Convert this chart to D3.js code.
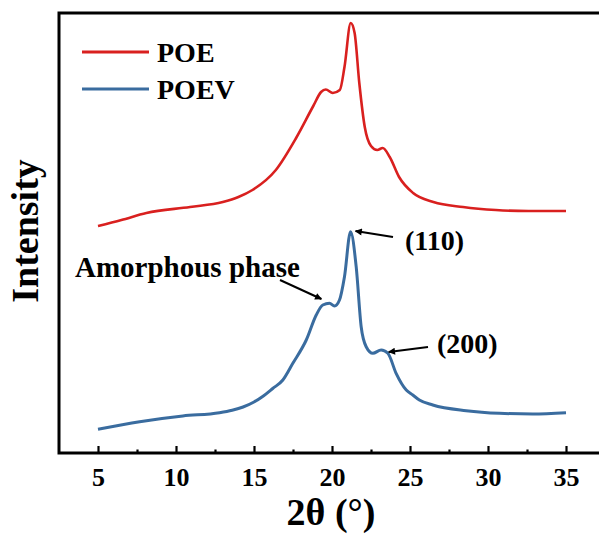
<!DOCTYPE html>
<html>
<head>
<meta charset="utf-8">
<script src="https://cdn.jsdelivr.net/npm/d3@7"></script>
<style>
  html, body { margin: 0; padding: 0; background: #fff; }
  svg { display: block; }
  text { font-family: "Liberation Serif", "Times New Roman", serif; font-weight: bold; fill: #000; }
</style>
</head>
<body>
<svg id="chart" width="599" height="537"></svg>
<script>
// ---- Data (2θ in degrees, intensity in arbitrary units) ----
const poeTheta = [5.0, 6.5, 8.1, 10.9, 13.0, 14.0, 14.9, 16.4, 17.7, 18.8, 19.3, 19.6, 20.05, 20.5, 20.8, 21.2, 21.45, 21.75, 22.1, 22.5, 22.9, 23.25, 23.7, 24.3, 25.2, 26.5, 28.4, 30.5, 32.6, 35.0];
const poeIntensity = [227, 233, 240, 246, 251, 256, 263, 283, 315, 347, 361, 363.5, 360, 363, 386, 430, 420, 370, 326, 307, 303, 305, 296, 276, 260, 251, 246, 243, 242, 242];

const poevTheta = [5.0, 7.67, 10.44, 12.79, 13.6, 14.3, 15.0, 15.6, 16.2, 16.85, 17.49, 18.35, 18.99, 19.41, 19.84, 20.16, 20.48, 20.8, 21.19, 21.55, 21.87, 22.19, 22.62, 23.15, 23.58, 24.11, 24.76, 25.18, 25.6, 26.46, 28.6, 30.73, 32.87, 35.0];
const poevIntensity = [23.7, 31.3, 37, 40.3, 42.8, 46, 51, 57, 64.5, 73, 89.7, 113, 138, 148, 149.7, 147, 153, 176.3, 221.3, 186.3, 126.3, 106.3, 99.7, 103, 99.7, 79.7, 63, 58, 53, 48, 42.3, 39.7, 39, 40.3];

const seriesNames = ["POE", "POEV"];
const seriesColors = ["#d9201f", "#3a6c9f"];
const majorTicks = [5, 10, 15, 20, 25, 30, 35];
const minorTicks = [7.5, 12.5, 17.5, 22.5, 27.5, 32.5];

const xLabel = "2θ (°)";
const yLabel = "Intensity";

// ---- Layout ----
const svg = d3.select("#chart");
const mLeft = 59, mTop = 13, mBottom = 453, mRight = 605;

const x = d3.scaleLinear().domain([2.5, 37.5]).range([mLeft, mRight]);
const y = d3.scaleLinear().domain([0, 440]).range([mBottom, mTop]);

const seriesData = [
  poeTheta.map((t, i) => ({ t, v: poeIntensity[i] })),
  poevTheta.map((t, i) => ({ t, v: poevIntensity[i] }))
];

const line = d3.line()
  .x(d => x(d.t))
  .y(d => y(d.v))
  .curve(d3.curveMonotoneX);

// curves
seriesData.forEach((data, i) => {
  svg.append("path")
    .datum(data)
    .attr("fill", "none")
    .attr("stroke", seriesColors[i])
    .attr("stroke-width", i === 0 ? 2.6 : 3)
    .attr("stroke-linejoin", "round")
    .attr("d", line);
});

// bottom axis (major ticks inward)
const xAxis = d3.axisBottom(x)
  .tickValues(majorTicks)
  .tickFormat(d3.format("d"))
  .tickSizeInner(-7)
  .tickSizeOuter(0)
  .tickPadding(15);

const gx = svg.append("g")
  .attr("transform", `translate(0,${mBottom})`)
  .call(xAxis);
gx.select(".domain").remove();
gx.selectAll(".tick line").attr("stroke", "#000").attr("stroke-width", 2.2);
gx.selectAll(".tick text")
  .style("font-family", '"Liberation Serif", "Times New Roman", serif')
  .style("font-weight", "bold")
  .style("font-size", "26px")
  .attr("fill", "#000");

// minor ticks
const xMinor = d3.axisBottom(x)
  .tickValues(minorTicks)
  .tickFormat("")
  .tickSizeInner(-3.5)
  .tickSizeOuter(0);
const gm = svg.append("g")
  .attr("transform", `translate(0,${mBottom})`)
  .call(xMinor);
gm.select(".domain").remove();
gm.selectAll(".tick line").attr("stroke", "#000").attr("stroke-width", 2.2);

// frame
svg.append("rect")
  .attr("x", mLeft).attr("y", mTop)
  .attr("width", mRight - mLeft).attr("height", mBottom - mTop)
  .attr("fill", "none")
  .attr("stroke", "#000")
  .attr("stroke-width", 3);

// axis titles
svg.append("text")
  .attr("x", 331).attr("y", 525)
  .attr("text-anchor", "middle")
  .style("font-size", "38px")
  .text(xLabel);

svg.append("text")
  .attr("transform", "translate(38,231) rotate(-90)")
  .attr("text-anchor", "middle")
  .style("font-size", "38px")
  .text(yLabel);

// legend
const legendY = [52, 89];
seriesNames.forEach((name, i) => {
  svg.append("line")
    .attr("x1", 82).attr("x2", 149)
    .attr("y1", legendY[i]).attr("y2", legendY[i])
    .attr("stroke", seriesColors[i])
    .attr("stroke-width", 3);
  svg.append("text")
    .attr("x", 157).attr("y", legendY[i] + 10)
    .style("font-size", "28px")
    .text(name);
});

// annotations with arrows
const defs = svg.append("defs");
defs.append("marker")
  .attr("id", "arrow")
  .attr("viewBox", "0 0 10 10")
  .attr("refX", 9).attr("refY", 5)
  .attr("markerWidth", 9).attr("markerHeight", 7)
  .attr("markerUnits", "userSpaceOnUse")
  .attr("orient", "auto")
  .append("path")
  .attr("d", "M0,0 L10,5 L0,10 Z")
  .attr("fill", "#000");

const annotations = [
  { text: "Amorphous phase", tx: 75, ty: 277, size: 29, from: [280, 280], tipT: 19.45, tipV: 152, dx: -2, dy: -2 },
  { text: "(110)", tx: 405, ty: 250, size: 28, from: [393, 237], tipT: 21.25, tipV: 222, dx: 4, dy: 0 },
  { text: "(200)", tx: 437, ty: 353, size: 28, from: [428, 347], tipT: 23.25, tipV: 101, dx: 6, dy: 0 }
];

annotations.forEach(a => {
  svg.append("line")
    .attr("x1", a.from[0]).attr("y1", a.from[1])
    .attr("x2", x(a.tipT) + a.dx).attr("y2", y(a.tipV) + a.dy)
    .attr("stroke", "#000")
    .attr("stroke-width", 2)
    .attr("marker-end", "url(#arrow)");
  svg.append("text")
    .attr("x", a.tx).attr("y", a.ty)
    .style("font-size", a.size + "px")
    .text(a.text);
});
</script>
</body>
</html>
